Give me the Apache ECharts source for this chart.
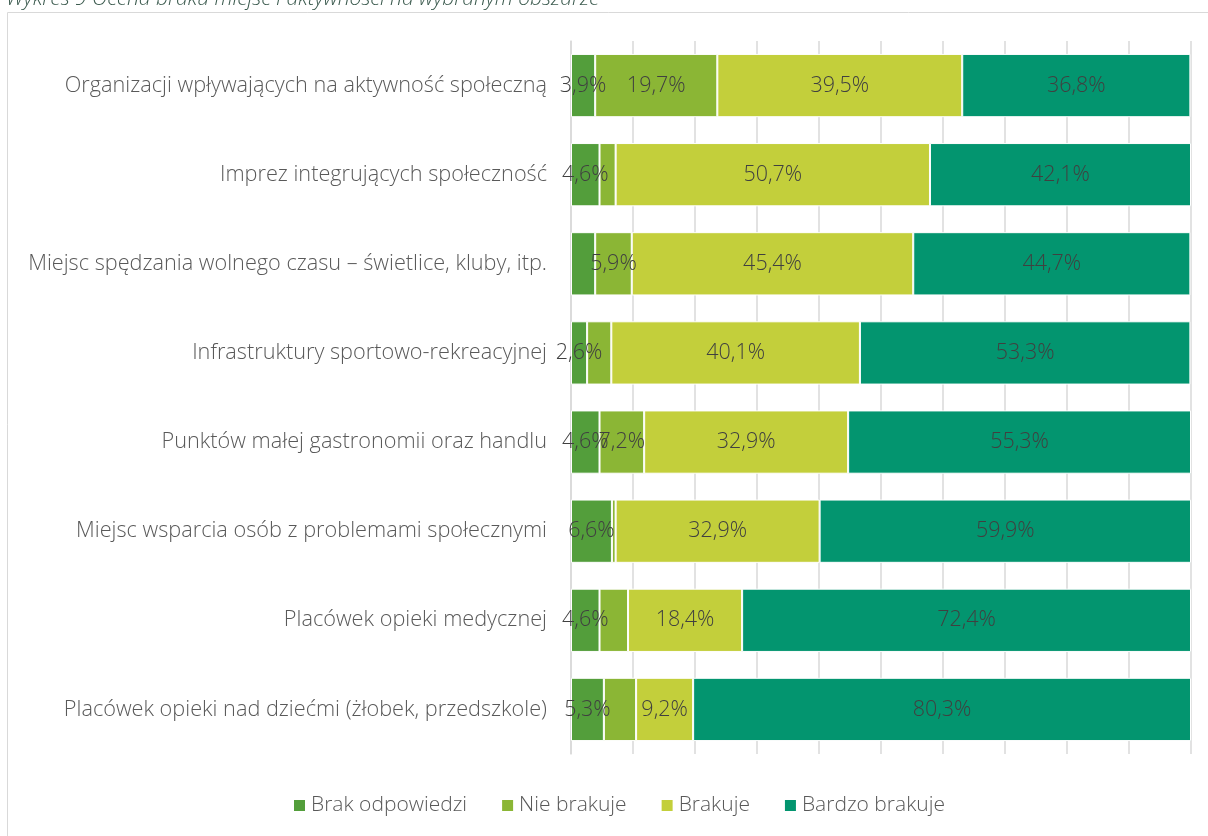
<!DOCTYPE html>
<html>
<head>
<meta charset="utf-8">
<script src="https://cdn.jsdelivr.net/npm/echarts@6/dist/echarts.min.js"></script>
<style>html,body{margin:0;padding:0;background:#fff;}#c{width:1208px;height:836px;}</style>
</head>
<body>
<div id="c"></div>
<script>
const categories = [
  "Organizacji wpływających na aktywność społeczną",
  "Imprez integrujących społeczność",
  "Miejsc spędzania wolnego czasu – świetlice, kluby, itp.",
  "Infrastruktury sportowo-rekreacyjnej",
  "Punktów małej gastronomii oraz handlu",
  "Miejsc wsparcia osób z problemami społecznymi",
  "Placówek opieki medycznej",
  "Placówek opieki nad dziećmi (żłobek, przedszkole)"
];
const seriesNames = ["Brak odpowiedzi", "Nie brakuje", "Brakuje", "Bardzo brakuje"];
const brakOdpowiedzi = [3.9, 4.6, 3.9, 2.6, 4.6, 6.6, 4.6, 5.3];
const nieBrakuje     = [19.7, 2.6, 5.9, 3.9, 7.2, 0.6, 4.6, 5.2];
const brakuje        = [39.5, 50.7, 45.4, 40.1, 32.9, 32.9, 18.4, 9.2];
const bardzoBrakuje  = [36.8, 42.1, 44.7, 53.3, 55.3, 59.9, 72.4, 80.3];
// which labels are shown in the original (1 = shown)
const showBrak = [1, 1, 0, 1, 1, 1, 1, 1];
const showNie  = [1, 0, 1, 0, 1, 0, 0, 0];
const colors = ["#539E3B", "#8BB635", "#C3CF3B", "#03956F"];

const FONT = "'Open Sans', 'Noto Sans', sans-serif";
const FS = 21;
const fmt = v => v.toFixed(1).replace('.', ',') + '%';

function mk(name, vals, color, shows) {
  return {
    name: name,
    type: 'bar',
    stack: 'total',
    barCategoryGap: '29%',
    itemStyle: { color: color, borderColor: '#ffffff', borderWidth: 1 },
    label: {
      show: true, position: 'inside', color: '#404040',
      fontFamily: FONT, fontSize: 21.5, fontWeight: 300,
      formatter: p => fmt(p.value)
    },
    labelLayout: { hideOverlap: false },
    data: vals.map((v, i) => ({ value: v, label: { show: shows ? !!shows[i] : true } })),
    emphasis: { disabled: true }
  };
}

const chart = echarts.init(document.getElementById('c'));
chart.setOption({
  animation: false,
  graphic: [
    { type: 'rect', shape: { x: 7.5, y: 12.5, width: 1400, height: 1000 },
      style: { fill: 'none', stroke: '#d9d9d9', lineWidth: 1 }, silent: true, z: -10 },
    { type: 'text', left: 6, top: -11,
      style: { text: 'Wykres 9 Ocena braku miejsc i aktywności na wybranym obszarze',
               fill: '#3B5A4E', font: 'italic 300 21px ' + FONT } }
  ],
  legend: {
    data: seriesNames, bottom: 15, left: 287,
    itemWidth: 13, itemHeight: 13, itemGap: 33,
    icon: 'rect',
    textStyle: { color: '#595959', fontSize: FS, fontFamily: FONT, fontWeight: 300 }
  },
  grid: { left: 571, right: 17, top: 41, bottom: 82, containLabel: false },
  xAxis: {
    type: 'value', min: 0, max: 100, interval: 10,
    axisLabel: { show: false },
    axisLine: { show: false }, axisTick: { show: false },
    splitLine: { show: true, lineStyle: { color: '#d9d9d9', width: 1.5 } }
  },
  yAxis: {
    type: 'category', data: categories, inverse: true,
    axisLine: { show: true, lineStyle: { color: '#d9d9d9', width: 1.5 } },
    axisTick: { show: false },
    axisLabel: { color: '#595959', fontSize: 21.7, fontFamily: FONT, fontWeight: 300, margin: 24 }
  },
  series: [
    mk(seriesNames[0], brakOdpowiedzi, colors[0], showBrak),
    mk(seriesNames[1], nieBrakuje, colors[1], showNie),
    mk(seriesNames[2], brakuje, colors[2]),
    mk(seriesNames[3], bardzoBrakuje, colors[3])
  ]
});
</script>
</body>
</html>
